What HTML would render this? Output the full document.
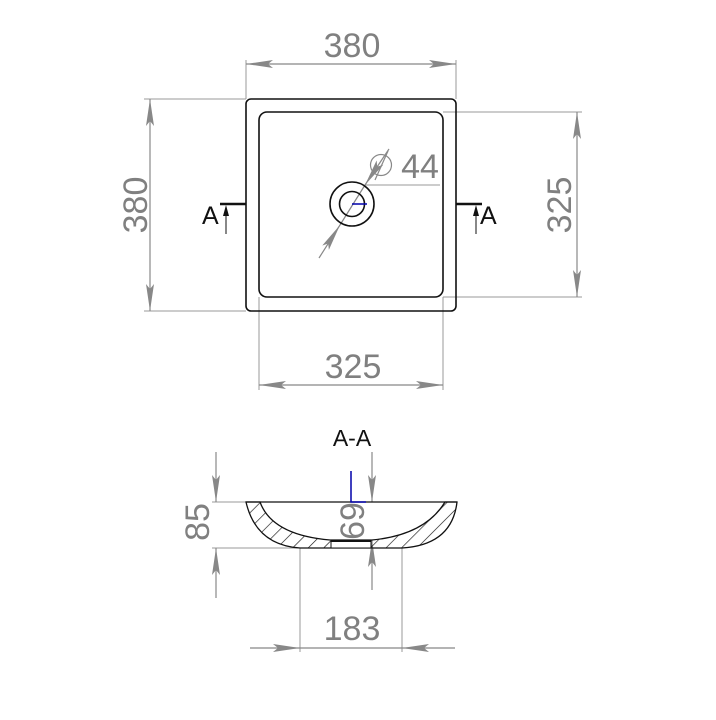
<!DOCTYPE html>
<html><head><meta charset="utf-8"><style>html,body{margin:0;padding:0;background:#fff}svg{display:block}</style></head><body>
<svg width="716" height="720" viewBox="0 0 716 720" xmlns="http://www.w3.org/2000/svg">
<defs>
<marker id="ar" viewBox="0 0 27 8" refX="27" refY="4" markerWidth="27" markerHeight="8" markerUnits="userSpaceOnUse" orient="auto-start-reverse">
<path d="M0,0 L27,4 L0,8 L5,4 Z" fill="#888"/>
</marker>
<pattern id="h" width="11" height="11" patternUnits="userSpaceOnUse" patternTransform="rotate(45)">
<line x1="0" y1="0" x2="0" y2="11" stroke="#111" stroke-width="1.3"/>
</pattern>
</defs>
<g stroke="#999" stroke-width="1" fill="none">
<line x1="246" y1="60" x2="246" y2="99"/>
<line x1="456" y1="60" x2="456" y2="99"/>
<line x1="144" y1="99" x2="246" y2="99"/>
<line x1="144" y1="311" x2="246" y2="311"/>
<line x1="443" y1="112" x2="582" y2="112"/>
<line x1="443" y1="297" x2="582" y2="297"/>
<line x1="259" y1="297" x2="259" y2="390"/>
<line x1="443" y1="297" x2="443" y2="390"/>
<line x1="212" y1="502" x2="246" y2="502"/>
<line x1="212" y1="548" x2="300" y2="548"/>
<line x1="300" y1="548" x2="300" y2="652"/>
<line x1="402" y1="548" x2="402" y2="652"/>
<line x1="365" y1="185" x2="440" y2="185"/>
</g>
<g stroke="#888" stroke-width="1.2" fill="none">
<line x1="246" y1="64" x2="456" y2="64" marker-start="url(#ar)" marker-end="url(#ar)"/>
<line x1="150" y1="99" x2="150" y2="311" marker-start="url(#ar)" marker-end="url(#ar)"/>
<line x1="577" y1="112" x2="577" y2="297" marker-start="url(#ar)" marker-end="url(#ar)"/>
<line x1="259" y1="385" x2="443" y2="385" marker-start="url(#ar)" marker-end="url(#ar)"/>
<line x1="319" y1="258" x2="340" y2="225" marker-end="url(#ar)"/>
<line x1="389" y1="149" x2="365" y2="185" marker-end="url(#ar)"/>
<line x1="340" y1="225" x2="365" y2="185"/>
<circle cx="381" cy="165" r="10.5"/>
<line x1="375" y1="180" x2="388" y2="151" />
<line x1="216" y1="452" x2="216" y2="502" marker-end="url(#ar)"/>
<line x1="216" y1="598" x2="216" y2="548" marker-end="url(#ar)"/>
<line x1="372" y1="452" x2="372" y2="502" marker-end="url(#ar)"/>
<line x1="372" y1="590" x2="372" y2="540" marker-end="url(#ar)"/>
<line x1="250" y1="648" x2="300" y2="648" marker-end="url(#ar)"/>
<line x1="455" y1="648" x2="402" y2="648" marker-end="url(#ar)"/>
<line x1="300" y1="648" x2="402" y2="648"/>
</g>
<g font-family="Liberation Sans, sans-serif" fill="#808080" font-size="34" text-anchor="middle">
<text x="352" y="57">380</text>
<text x="353" y="378">325</text>
<text transform="translate(147,205) rotate(-90)">380</text>
<text transform="translate(571,205) rotate(-90)">325</text>
<text x="420" y="178">44</text>
<text transform="translate(209,522) rotate(-90)">85</text>
<text transform="translate(364,521) rotate(-90)">69</text>
<text x="352" y="640">183</text>
</g>
<g stroke="#111" stroke-width="1.6" fill="none">
<rect x="246" y="99" width="210" height="212" rx="5"/>
<rect x="259" y="112" width="184" height="185" rx="8"/>
<circle cx="352" cy="204" r="22"/>
<circle cx="352" cy="204" r="12.5"/>
<line x1="220" y1="204" x2="246" y2="204" stroke-width="2.5"/>
<line x1="456" y1="204" x2="482" y2="204" stroke-width="2.5"/>
<line x1="226" y1="234" x2="226" y2="210" stroke-width="1"/>
<line x1="476" y1="234" x2="476" y2="210" stroke-width="1"/>
</g>
<path d="M226,205 L223,216 L229,216 Z M476,205 L473,216 L479,216 Z" fill="#111"/>
<line x1="352" y1="204" x2="367" y2="204" stroke="#0000aa" stroke-width="1.5"/>
<g font-family="Liberation Sans, sans-serif" fill="#111" font-size="25">
<text x="202" y="224">A</text>
<text x="480" y="224">A</text>
<text x="352" y="446" text-anchor="middle" font-size="23">A-A</text>
</g>
<path d="M246,502 L260,502 Q272,535 330,540 L372,540 Q425,535 445,502 L457,502 Q452,545 402,548 L300,548 Q256,545 246,502 Z" fill="url(#h)" stroke="#111" stroke-width="1.3"/>
<line x1="246" y1="502" x2="457" y2="502" stroke="#111" stroke-width="1.2"/>
<rect x="331" y="540" width="40" height="8" fill="#fff" stroke="#111" stroke-width="1"/>
<line x1="331" y1="541" x2="371" y2="541" stroke="#111" stroke-width="2"/>
<path d="M351,471 L351,502 L366,502" stroke="#0000aa" stroke-width="1.5" fill="none"/>
</svg>
</body></html>
